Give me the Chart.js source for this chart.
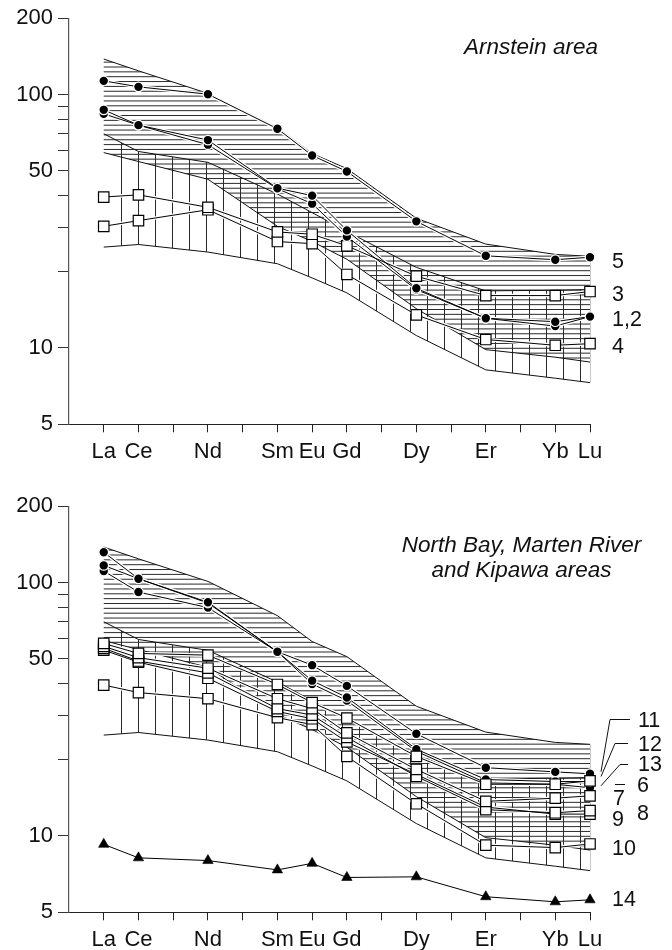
<!DOCTYPE html>
<html><head><meta charset="utf-8">
<script src="https://cdn.jsdelivr.net/npm/chart.js@4.4.1/dist/chart.umd.min.js"></script>
<style>
html,body{margin:0;padding:0;background:#fff;overflow:hidden;width:672px;height:950px;}
.panel{position:absolute;left:0;width:672px;height:488px;}
</style></head><body>
<div class="panel" style="top:0"><canvas id="c1" width="672" height="488"></canvas></div>
<div class="panel" style="top:488px"><canvas id="c2" width="672" height="488"></canvas></div>
<script>
// ---------- categories / ticks ----------
const elements = ['La','Ce','Pr','Nd','Pm','Sm','Eu','Gd','Tb','Dy','Ho','Er','Tm','Yb','Lu'];
const analysed = ['La','Ce','Nd','Sm','Eu','Gd','Dy','Er','Yb','Lu'];
const xTickLabels = ['La','Ce','Nd','Sm','Eu','Gd','Dy','Er','Yb','Lu'];
const yTicks = [5,10,20,30,40,50,60,70,80,90,100,200];
const yTickLabels = [5,10,50,100,200];

// ---------- reference envelopes (same in both panels) ----------
const envHUpper = [138, 124, 101, 74, 58.5, 51, 32.5, 25.7, 23.4, 23.0];
const envHLower = [59, 54.4, 46.3, 30.2, 26.3, 22.4, 14.3, 9.85, 9.2, 8.8];
const envVUpper = [70, 59.6, 54, 40.5, 34.2, 28.8, 20.8, 16.8, 16.9, 17.0];
const envVLower = [25.0, 25.6, 23.9, 21.5, 18.9, 16.5, 11.2, 8.2, 7.6, 7.3];

// ---------- Arnstein area ----------
const s1 = [87.0, 75.7, 66.1, 42.7, 39.9, 29.1, 17.2, 13.1, 12.7, 13.3];
const s2 = [83.9, 75.7, 63.4, 42.5, 37.1, 27.5, 17.0, 13.1, 12.2, 13.3];
const s3 = [39.4, 40.2, 35.9, 28.7, 28.1, 25.3, 19.2, 16.1, 16.1, 16.7];
const s4 = [30.2, 31.8, 35.1, 26.3, 25.8, 19.5, 13.5, 10.8, 10.25, 10.4];
const s5 = [113.2, 107.2, 100.3, 73.3, 57.5, 49.7, 31.6, 23.1, 22.3, 22.8];

// ---------- North Bay, Marten River and Kipawa areas ----------
const s6  = [57.5, 52.5, 51.7, 39.6, 33.6, 29.2, 20.6, 16.0, 16.0, 16.5];
const s7  = [56.0, 50.5, 45.9, 34.8, 31.8, 25.5, 18.3, 13.7, 14.1, 14.4];
const s8  = [55.0, 49.0, 44.0, 31.8, 30.0, 24.5, 17.2, 12.7, 12.35, 12.6];
const s9  = [54.1, 48.5, 41.9, 31.0, 29.0, 23.5, 17.5, 13.0, 12.2, 12.2];
const s10 = [39.4, 36.8, 34.8, 29.3, 27.5, 20.6, 13.4, 9.2, 9.0, 9.3];
const s11 = [131.6, 103.5, 83.6, 53.3, 47.2, 39.1, 25.3, 18.6, 17.9, 17.6];
const s12 = [116.8, 103.5, 83.0, 53.3, 41.0, 35.2, 22.0, 16.7, 16.4, 16.4];
const s13 = [111.0, 91.7, 79.6, 53.3, 39.8, 34.2, 21.6, 16.2, 16.0, 15.5];
const s14 = [9.27, 8.2, 8.0, 7.35, 7.8, 6.86, 6.9, 5.76, 5.5, 5.6];

// sample label names and the value at which each label sits
const topLabels = ['5','3','1,2','4'];
const topLabelValues = [22.3, 16.5, 13.1, 10.3];
const botLabels = ['11','12','13','6','7','8','9','10','14'];
const botLabelValues = [29.0, 23.2, 19.3, 16.05, 14.2, 12.4, 11.8, 9.05, 5.66];

// ---------- helpers ----------
const FONT = "'Liberation Sans', Arial, Helvetica, sans-serif";
Chart.defaults.font.family = FONT;
const pts = vals => analysed.map((e, i) => ({x: elements.indexOf(e), y: vals[i]}));

function boundary(vals){
  return {data: pts(vals), borderColor:'#111', borderWidth:1, pointRadius:0, fill:false, order:30, clip:false};
}
function halo(vals){
  return {data: pts(vals), borderColor:'#fff', borderWidth:3.5, pointRadius:0, fill:false, order:20, clip:false};
}
function series(vals, kind){
  const d = {data: pts(vals), borderColor:'#000', borderWidth:1, fill:false, order:0, clip:false};
  if (kind === 'circle') Object.assign(d, {pointStyle:'circle', pointRadius:4.8, pointBackgroundColor:'#000', pointBorderColor:'#fff', pointBorderWidth:1.2});
  if (kind === 'square') Object.assign(d, {pointStyle:'rect', pointRadius:7.4, pointBackgroundColor:'#fff', pointBorderColor:'#000', pointBorderWidth:1.2});
  if (kind === 'triangle') Object.assign(d, {pointStyle:'triangle', pointRadius:6, pointBackgroundColor:'#000', pointBorderColor:'#000', pointBorderWidth:0.6});
  return d;
}

const hatchPlugin = {
  id:'hatch',
  beforeDatasetsDraw(chart){
    const {ctx, chartArea:a, scales:{x, y}} = chart;
    const xs = analysed.map(e => x.getPixelForValue(elements.indexOf(e)));
    const path = (up, lo) => {
      ctx.beginPath();
      up.forEach((v, i) => { const py = y.getPixelForValue(v); i ? ctx.lineTo(xs[i], py) : ctx.moveTo(xs[i], py); });
      for (let i = lo.length - 1; i >= 0; i--) ctx.lineTo(xs[i], y.getPixelForValue(lo[i]));
      ctx.closePath();
    };
    ctx.save();
    path(envHUpper, envHLower); ctx.clip();
    ctx.strokeStyle = '#2a2a2a'; ctx.lineWidth = 1;
    ctx.beginPath();
    for (let py = a.top + 0.3; py < a.bottom; py += 4.85){ ctx.moveTo(a.left, py); ctx.lineTo(a.right, py); }
    ctx.stroke();
    ctx.restore();
    ctx.save();
    path(envVUpper, envVLower); ctx.clip();
    ctx.strokeStyle = '#2a2a2a'; ctx.lineWidth = 1;
    ctx.beginPath();
    for (let k = 1; k <= 28; k++){ const px = Math.round(x.getPixelForValue(k * 0.49)) + 0.5; ctx.moveTo(px, a.top); ctx.lineTo(px, a.bottom); }
    ctx.stroke();
    ctx.restore();
    // right closing edge of the envelopes
    const xr = Math.round(xs[xs.length - 1]) + 0.5;
    ctx.save();
    ctx.strokeStyle = '#c8c8c8'; ctx.lineWidth = 1;
    ctx.beginPath();
    ctx.moveTo(xr, y.getPixelForValue(envHUpper[envHUpper.length - 1]));
    ctx.lineTo(xr, y.getPixelForValue(envVLower[envVLower.length - 1]));
    ctx.stroke();
    ctx.restore();
  }
};

function textPlugin(cfg){
  return {
    id:'texts',
    afterDraw(chart){
      const {ctx, chartArea:a, scales:{x, y}} = chart;
      ctx.save();
      ctx.fillStyle = '#111';
      ctx.font = 'italic 22.5px ' + FONT;
      ctx.textAlign = 'center'; ctx.textBaseline = 'alphabetic';
      cfg.title.forEach((t, i) => ctx.fillText(t, cfg.titleX, cfg.titleY + i * 25));
      ctx.font = '21.5px ' + FONT;
      ctx.textAlign = 'left';
      const xLu = x.getPixelForValue(elements.indexOf('Lu'));
      cfg.labels.forEach((t, i) => {
        const py = y.getPixelForValue(cfg.values[i]);
        ctx.fillText(t, xLu + cfg.dx[i], py + 7.8);
      });
      if (cfg.leaders){
        ctx.strokeStyle = '#111'; ctx.lineWidth = 1;
        cfg.leaders.forEach(L => {
          const ly = Math.round(y.getPixelForValue(cfg.values[L.label])) + 0.5;
          ctx.beginPath();
          ctx.moveTo(xLu + L.x1, ly);
          ctx.lineTo(xLu + L.x0, ly);
          if (L.target){
            ctx.lineTo(xLu + 11, y.getPixelForValue(L.target[L.target.length - 1]) + L.ty);
          }
          ctx.stroke();
        });
      }
      ctx.restore();
    }
  };
}

function makeChart(id, datasets, texts){
  return new Chart(document.getElementById(id), {
    type:'line',
    data:{datasets},
    options:{
      responsive:false, animation:false, events:[],
      layout:{padding:{top:16.3, right:82, bottom:0, left:0}},
      elements:{line:{tension:0}},
      plugins:{legend:{display:false}, tooltip:{enabled:false}},
      scales:{
        x:{type:'linear', min:-1, max:14,
          afterBuildTicks: s => { s.ticks = elements.map((e, i) => ({value:i})); },
          afterFit: s => { s.height = 488 - 424.3; },
          ticks:{autoSkip:false, maxRotation:0, padding:6, color:'#111', font:{size:22},
            callback: v => xTickLabels.includes(elements[v]) ? elements[v] : ''},
          grid:{drawOnChartArea:false, drawTicks:true, tickLength:8, color:'#222', lineWidth:1},
          border:{display:true, color:'#222', width:1}
        },
        y:{type:'logarithmic', min:5, max:200,
          afterBuildTicks: s => { s.ticks = yTicks.map(v => ({value:v})); },
          afterFit: s => { s.width = 69; },
          ticks:{autoSkip:false, padding:5, color:'#111', font:{size:22},
            callback: v => yTickLabels.includes(v) ? String(v) : ''},
          grid:{drawOnChartArea:false, drawTicks:true, tickLength:11, color:'#333', lineWidth:1},
          border:{display:true, color:'#555', width:1.2}
        }
      }
    },
    plugins:[hatchPlugin, textPlugin(texts)]
  });
}

const envSets = [boundary(envHUpper), boundary(envHLower), boundary(envVUpper), boundary(envVLower)];

const topSeries = [[s1,'circle'],[s2,'circle'],[s3,'square'],[s4,'square'],[s5,'circle']];
makeChart('c1',
  envSets.concat(topSeries.map(s => halo(s[0]))).concat(topSeries.map(s => series(s[0], s[1]))),
  {title:['Arnstein area'], titleX:531, titleY:54, labels:topLabels, values:topLabelValues, dx:[22,22,22,22]}
);

const botSeries = [[s6,'square'],[s7,'square'],[s8,'square'],[s9,'square'],[s10,'square'],
  [s11,'circle'],[s12,'circle'],[s13,'circle'],[s14,'triangle']];
makeChart('c2',
  [boundary(envHUpper), boundary(envHLower), boundary(envVUpper), boundary(envVLower)]
    .concat(botSeries.map(s => halo(s[0]))).concat(botSeries.map(s => series(s[0], s[1]))),
  {title:['North Bay, Marten River','and Kipawa areas'], titleX:521.5, titleY:551.7-488,
   labels:botLabels, values:botLabelValues, dx:[48,48,48,47,23,47,22,22,22],
   leaders:[
     {label:0, x1:40, x0:20, target:s11, ty:-2},
     {label:1, x1:38, x0:25, target:s12, ty:-5},
     {label:2, x1:38, x0:30, target:s13, ty:-2},
     {label:3, x1:35, x0:25}
   ]}
);
</script>
</body></html>
